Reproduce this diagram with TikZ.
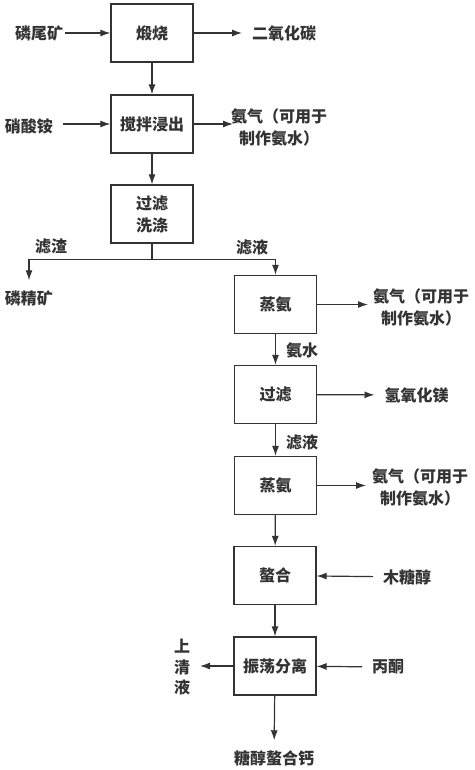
\documentclass[tikz,border=0pt]{standalone}
\usepackage{fontspec}
\setmainfont{Noto Sans CJK SC}
\usetikzlibrary{arrows.meta,calc,positioning}
\definecolor{cInk}{HTML}{333333}

\begin{document}
\begin{tikzpicture}[
  x=1pt, y=-1pt,
  font=\bfseries\fontsize{16}{22}\selectfont,
  >=Latex,
  flow/.style={draw=cInk, line width=1.2pt,
    -{Latex[length=10pt,width=7pt]}},
  link/.style={draw=cInk, line width=1.2pt},
  proc/.style={draw=cInk, line width=1.2pt, minimum width=82pt,
    minimum height=58pt, inner sep=0pt, align=center, text=cInk},
  lab/.style={text=cInk, inner sep=0pt, outer sep=10pt, align=center},
]
\useasboundingbox (0,0) rectangle (474,770);

% ---- Process boxes (top -> bottom) ----
\node[proc] (roast) at (152,33) {煅烧};
\node[proc] (leach) at (152,124) {搅拌浸出};
\node[proc] (wash)  at (152,214) {过滤\\洗涤};
\node[proc] (stripA) at (275.5,304.5) {蒸氨};
\node[proc] (filt)   at (275.5,394.5) {过滤};
\node[proc] (stripB) at (275.5,485.5) {蒸氨};
\node[proc] (chel)   at (275,575.5) {螯合};
\node[proc] (shake)  at (275,666) {振荡分离};

% ---- Inputs and outputs ----
\node[lab] (tail)  at (39,33) {磷尾矿};
\node[lab] (co2)   at (284,33) {二氧化碳};
\node[lab] (nitr)  at (29,126) {硝酸铵};
\node[lab] (gasA)  at (279,127) {氨气（可用于\\制作氨水）};
\node[lab] (conc)  at (29,298) {磷精矿};
\node[lab] (gasB)  at (421,307) {氨气（可用于\\制作氨水）};
\node[lab] (mgoh)  at (416.5,395) {氢氧化镁};
\node[lab] (gasC)  at (420,487.5) {氨气（可用于\\制作氨水）};
\node[lab] (xyl)   at (407,577) {木糖醇};
\node[lab] (acet)  at (388,667) {丙酮};
\node[lab, align=center, font=\bfseries\fontsize{16}{20.5}\selectfont]
  (super) at (182,667.5) {上\\清\\液};
\node[lab] (prod)  at (274,758) {糖醇螯合钙};

% ---- Stream labels ----
\node[lab] at (51,247) {滤渣};
\node[lab] at (252,247) {滤液};
\node[lab] at (302,350) {氨水};
\node[lab] at (302,442) {滤液};

% ---- Main line ----
\draw[flow] (roast) -- (leach);
\draw[flow] (leach) -- (wash);
\coordinate (fork) at ($(wash.south)+(0,16)$);
\draw[link] (wash.south) -- (fork);
\draw[flow] (fork) -| (conc);
\draw[flow] (fork) -| (stripA.north);
\draw[flow] (stripA) -- (filt);
\draw[flow] (filt) -- (stripB);
\draw[flow] (stripB) -- (chel);
\draw[flow] (chel) -- (shake);
\draw[flow] (shake) -- (prod);

% ---- Side streams ----
\draw[flow, shorten <=-8pt] (tail) -- (roast);
\draw[flow] (nitr.east |- leach) -- (leach);
\draw[flow] (roast) -- (co2);
\draw[flow, shorten >=-12pt] (leach.east) -- (leach.east -| gasA.west);
\draw[flow, shorten >=-5pt] (stripA.east) -- (stripA.east -| gasB.west);
\draw[flow] (filt) -- (mgoh);
\draw[flow, shorten >=-4pt] (stripB.east) -- (stripB.east -| gasC.west);
\draw[flow] (xyl) -- (chel);
\draw[flow] (acet) -- (shake);
\draw[flow] (shake) -- (super.east |- shake);

\end{tikzpicture}
\end{document}
